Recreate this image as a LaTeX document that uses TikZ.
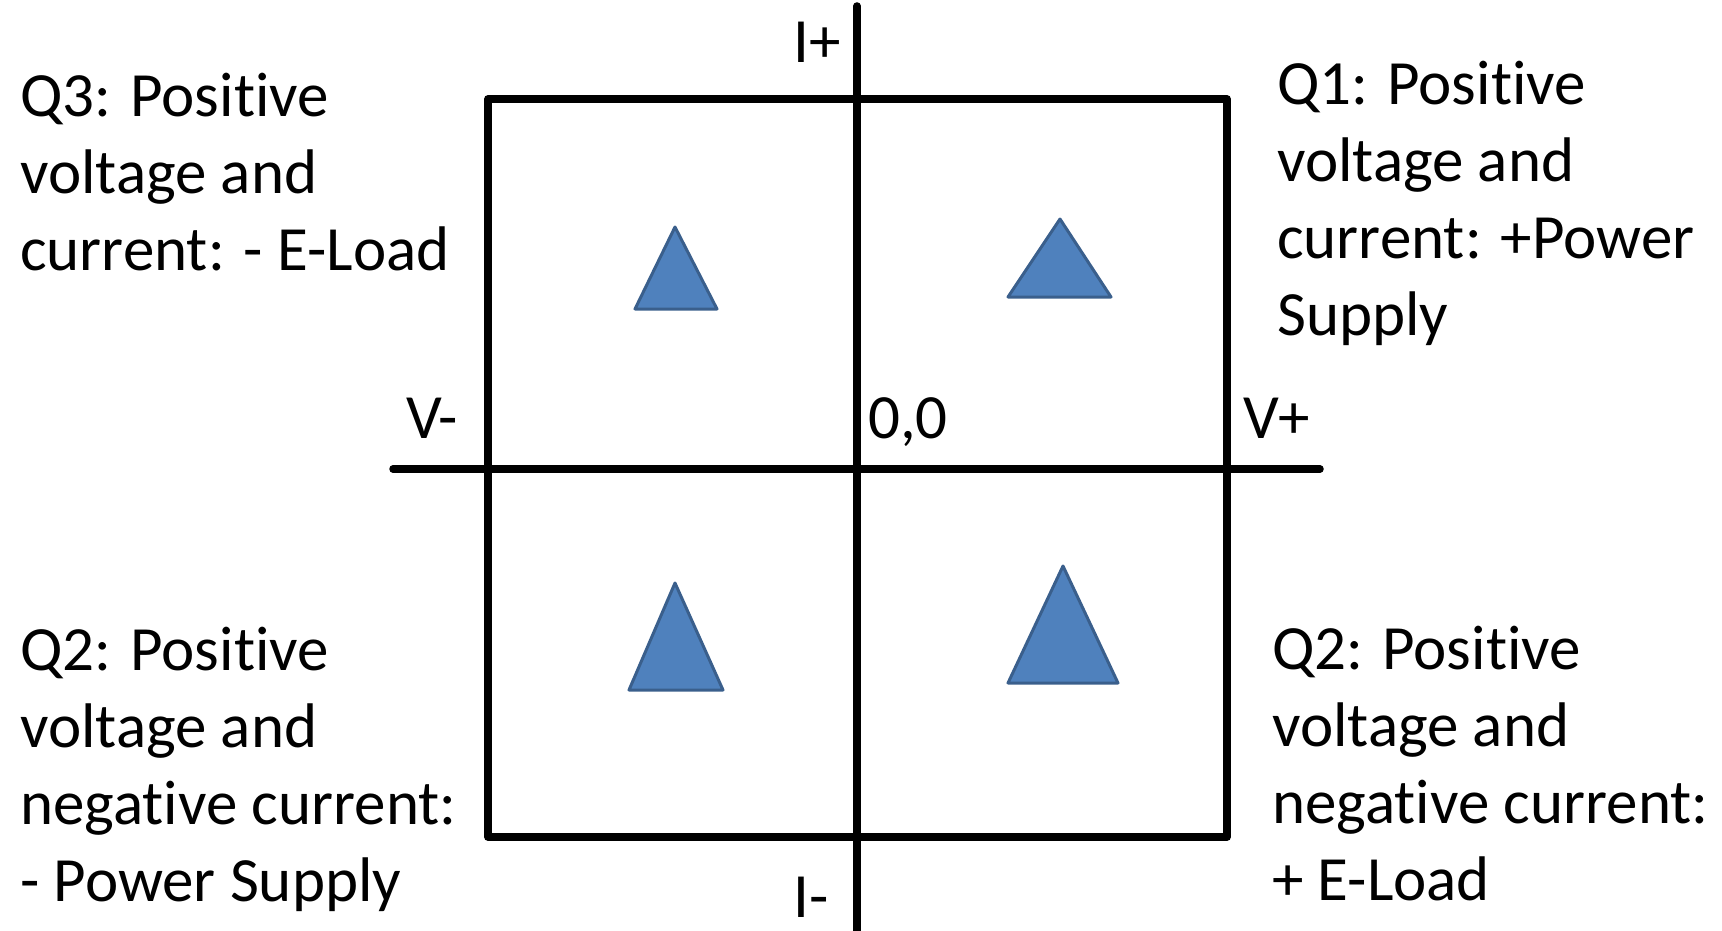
\documentclass[tikz,border=0pt]{standalone}
\usepackage{fontspec}
\setmainfont{Carlito}[Ligatures=NoCommon]
\definecolor{triFill}{HTML}{4F81BD}
\definecolor{triLine}{HTML}{3A5F8C}
\begin{document}
\begin{tikzpicture}[x=1pt,y=-1pt,
  axisline/.style={line width=7.5pt, line cap=round},
  frame/.style={line width=7.5pt, line join=round},
  tri/.style={fill=triFill, draw=triLine, line width=3pt, line join=round},
  lbl/.style={font=\fontsize{63}{77}\selectfont, inner sep=0pt, anchor=base west, align=left}]
\useasboundingbox (0,0) rectangle (1722,931);
% frame
\draw[frame] (488,99) rectangle (1227,837);
% axes
\coordinate (vl) at (393,469);
\coordinate (vr) at (1320,469);
\coordinate (it) at (857,6);
\coordinate (ib) at (857,940);
\draw[axisline] (vl) -- (vr);
\draw[axisline] (it) -- (ib);
% triangles
\draw[tri] (675,227) -- (717,309) -- (635,309) -- cycle;
\draw[tri] (1060,219) -- (1111,297) -- (1008,297) -- cycle;
\draw[tri] (675,583) -- (723,690) -- (629,690) -- cycle;
\draw[tri] (1063,566) -- (1118,683) -- (1008,683) -- cycle;
% axis labels
\node[lbl] (iplus) at (793,63) {I+};
\node[lbl] (iminus) at (793,917) {I-};
\node[lbl] (vminus) at (406,438) {V-};
\node[lbl] (origin) at (868,438) {0,0};
\node[lbl] (vplus) at (1243,438) {V+};
% quadrant texts (anchor = baseline of last line)
\node[lbl] (q3) at (20,270) {Q3: Positive\\voltage and\\current: - E-Load};
\node[lbl] (q1) at (1277,335) {Q1: Positive\\voltage and\\current: +Power\\Supply};
\node[lbl] (q2l) at (20,901) {Q2: Positive\\voltage and\\negative current:\\- Power Supply};
\node[lbl] (q2r) at (1272,900) {Q2: Positive\\voltage and\\negative current:\\+ E-Load};
\end{tikzpicture}
\end{document}
